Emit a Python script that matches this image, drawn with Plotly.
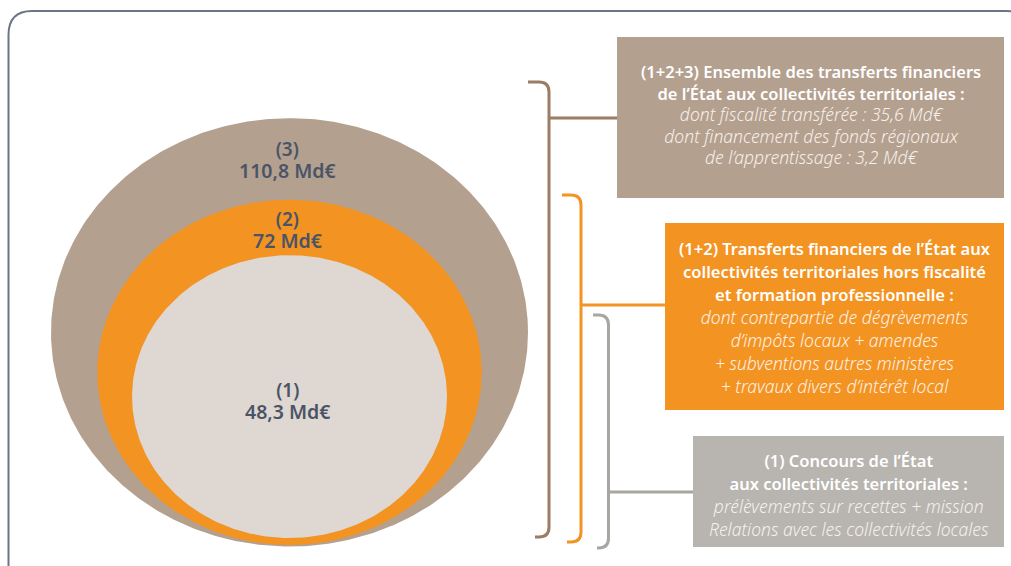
import numpy as np
import plotly.graph_objects as go

# ---------------- data ----------------
circle_ids = ["(1)", "(2)", "(3)"]
circle_values = [48.3, 72.0, 110.8]
circle_value_labels = ["48,3 Md€", "72 Md€", "110,8 Md€"]

box3_title = ["(1+2+3) Ensemble des transferts financiers",
              "de l’État aux collectivités territoriales :"]
box3_detail = ["dont fiscalité transférée : 35,6 Md€",
               "dont financement des fonds régionaux",
               "de l’apprentissage : 3,2 Md€"]
box2_title = ["(1+2) Transferts financiers de l’État aux",
              "collectivités territoriales hors fiscalité",
              "et formation professionnelle :"]
box2_detail = ["dont contrepartie de dégrèvements",
               "d’impôts locaux + amendes",
               "+ subventions autres ministères",
               "+ travaux divers d’intérêt local"]
box1_title = ["(1) Concours de l’État",
              "aux collectivités territoriales :"]
box1_detail = ["prélèvements sur recettes + mission",
               "Relations avec les collectivités locales"]

# ---------------- style / layout ----------------
W, H = 1011, 566
C_BROWN = "#b4a08f"
C_ORANGE = "#f39322"
C_LIGHT = "#dfd7d1"
C_GREY = "#b8b4b0"
C_BR_LINE = "#9c7d63"
C_GR_LINE = "#a9a5a0"
C_TXT = "#4b5467"
FONT = "Noto Sans"

fill_colors = [C_LIGHT, C_ORANGE, C_BROWN]
max_rx = 238.5
aspect = 0.898
cx = 289.5
bottoms = [538, 545, 546.5]

fig = go.Figure()

vmax = max(circle_values)
tops = []
centers = []
geo = []
for v, b in zip(circle_values, bottoms):
    s = np.sqrt(v / vmax)
    rx = max_rx * s
    ry = max_rx * aspect * s
    cy = b - ry
    geo.append((rx, ry, cy))
    tops.append(cy - ry)
    centers.append(cy)

t = np.linspace(0, 2 * np.pi, 400)
for i in [2, 1, 0]:
    rx, ry, cy = geo[i]
    fig.add_trace(go.Scatter(
        x=cx + rx * np.cos(t), y=cy + ry * np.sin(t),
        mode="lines", fill="toself", fillcolor=fill_colors[i],
        line=dict(width=0, color=fill_colors[i]), hoverinfo="skip",
        showlegend=False))

# circle labels (two lines in one text, ~22.5 px line pitch)
label_centers = [centers[0] + 4.5,
                 (tops[1] + tops[0]) / 2 + 2.5,
                 (tops[2] + tops[1]) / 2 + 1.5]
for i in range(3):
    txt = (f'<span style="font-size:19px">{circle_ids[i]}</span><br>'
           f'<span style="font-size:19.5px">{circle_value_labels[i]}</span>')
    fig.add_annotation(x=cx - 2, y=label_centers[i], text=txt, showarrow=False,
                       font=dict(family=FONT, size=17.3, color=C_TXT, weight=600),
                       xanchor="center", yanchor="middle")

shapes = []
# outer rounded frame
shapes.append(dict(type="path", xref="x", yref="y",
                   path="M 8.5,590 L 8.5,35 Q 8.5,11 32,11 L 1006,11 Q 1030,11 1030,35",
                   line=dict(color="#6c7585", width=2)))

# boxes
boxes = [
    (617, 37, 1004, 198, C_BROWN),
    (665, 223, 1004, 410, C_ORANGE),
    (693, 436, 1004, 547, C_GREY),
]
for x0, y0, x1, y1, c in boxes:
    shapes.append(dict(type="rect", xref="x", yref="y", x0=x0, y0=y0, x1=x1, y1=y1,
                       fillcolor=c, line=dict(width=0), layer="below"))


def bracket(xv, xt, yt, xb, yb, r=10):
    return (f"M {xt},{yt} L {xv - r},{yt} Q {xv},{yt} {xv},{yt + r} "
            f"L {xv},{yb - r} Q {xv},{yb} {xv - r},{yb} L {xb},{yb}")


brackets = [
    (549, 528, 82, 535, 537, 118, 617, C_BR_LINE),
    (581, 562, 195, 567, 542, 305, 665, C_ORANGE),
    (608.5, 593, 315, 597, 548, 492, 693, C_GR_LINE),
]
for xv, xt, yt, xb, yb, yc, xe, c in brackets:
    shapes.append(dict(type="path", xref="x", yref="y", path=bracket(xv, xt, yt, xb, yb),
                       line=dict(color=c, width=3)))
    shapes.append(dict(type="line", xref="x", yref="y", x0=xv, x1=xe, y0=yc, y1=yc,
                       line=dict(color=c, width=3)))


def box_text(xc, yc, pitch, titles, details, dcolor):
    parts = [f'<span style="font-size:16.5px;font-weight:600;fill:#ffffff">{s}</span>'
             for s in titles]
    parts += [f'<span style="font-size:17.5px"><i>{s}</i></span>' for s in details]
    fig.add_annotation(x=xc, y=yc, text="<br>".join(parts), showarrow=False,
                       font=dict(family=FONT, size=pitch / 1.3, color=dcolor, weight=300),
                       xanchor="center", yanchor="middle", align="center")


box_text(810.5, 114.7, 21.5, box3_title, box3_detail, "#f7efe9")
box_text(834.5, 317.5, 23.06, box2_title, box2_detail, "#fdf1e4")
box_text(848.7, 494.5, 23.0, box1_title, box1_detail, "#f3f1ef")

fig.update_layout(
    width=W, height=H, autosize=False,
    margin=dict(l=0, r=0, t=0, b=0),
    paper_bgcolor="white", plot_bgcolor="white",
    xaxis=dict(range=[0, W], visible=False, fixedrange=True),
    yaxis=dict(range=[H, 0], visible=False, fixedrange=True),
    shapes=shapes, showlegend=False,
)

fig.write_html("out.html", config={"displayModeBar": False},
               post_script="document.body.style.margin='0';document.body.style.overflow='hidden';")
